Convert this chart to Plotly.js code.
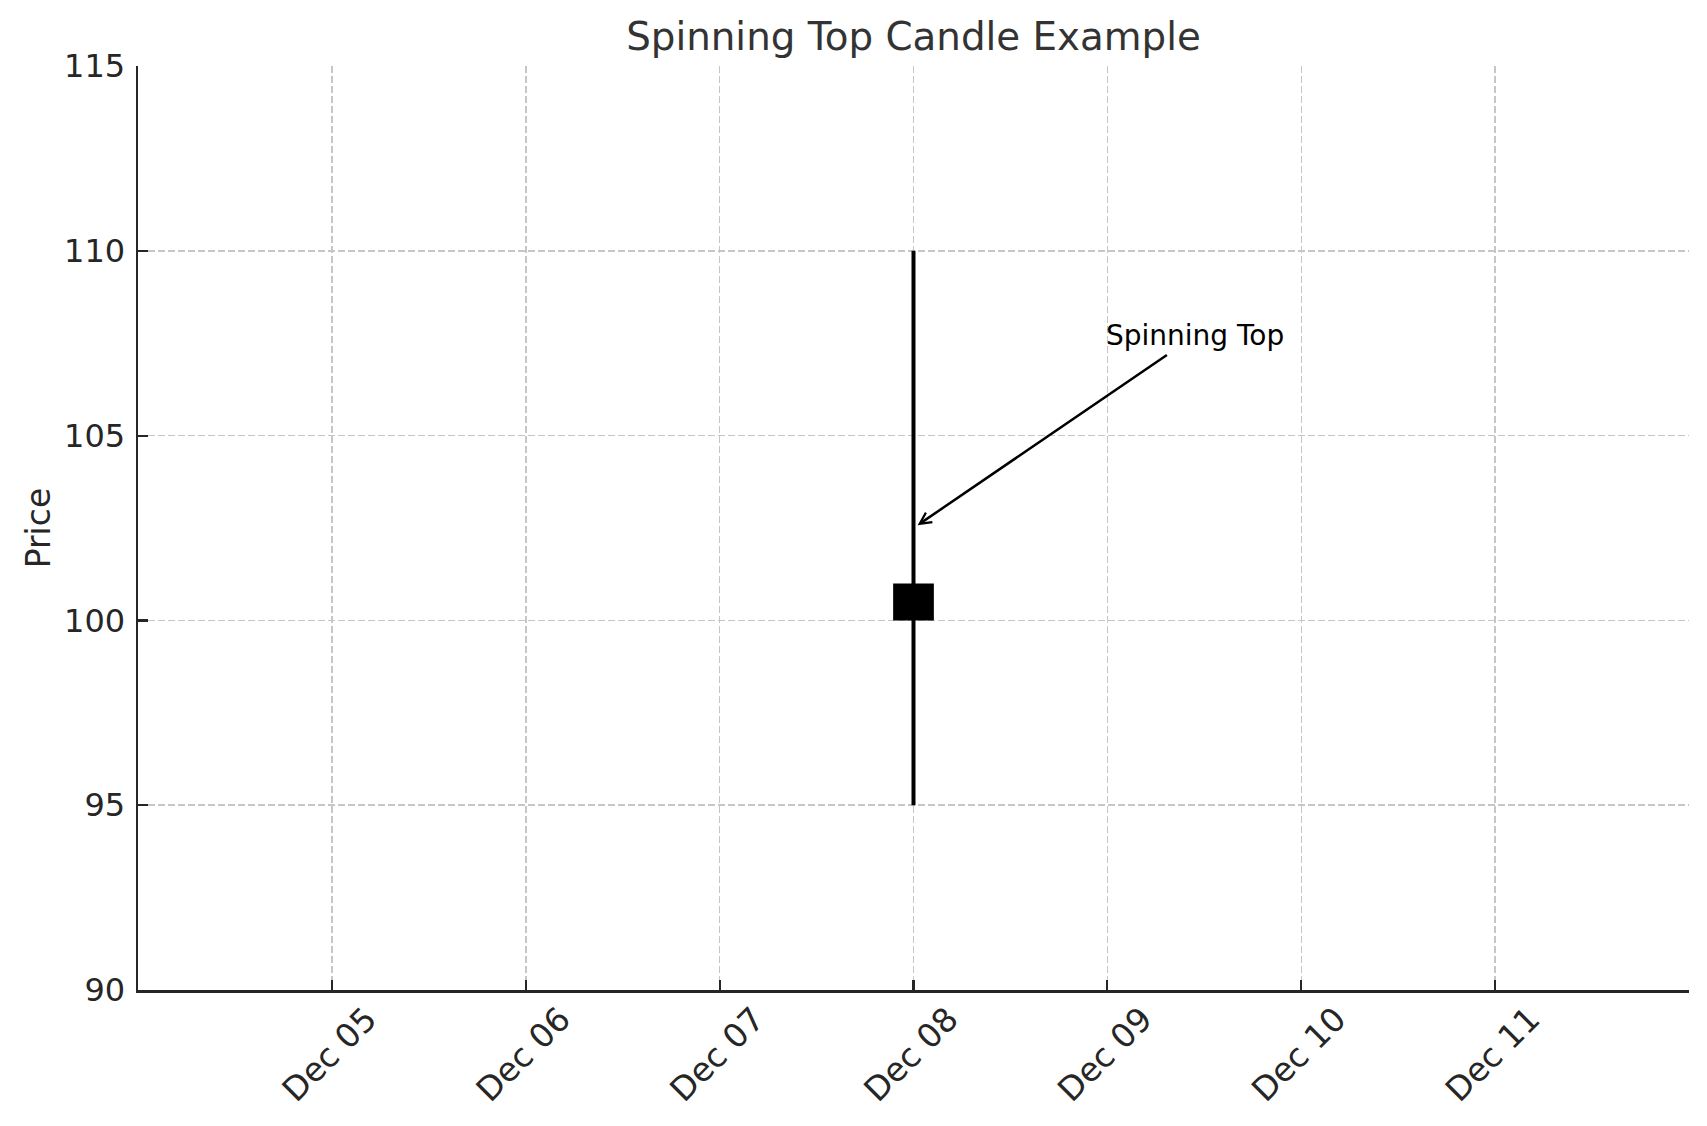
<!DOCTYPE html>
<html>
<head>
<meta charset="utf-8">
<script src="https://cdn.plot.ly/plotly-3.0.1.min.js"></script>
<style>html,body{margin:0;padding:0;background:#fff;}#chart{width:1707px;height:1126px;}</style>
</head>
<body>
<div id="chart"></div>
<script>
// ---- data ----
const dates = ['2023-12-08'];
const openPrices = [100];
const highPrices = [110];
const lowPrices = [95];
const closePrices = [101];
const xRange = ['2023-12-04', '2023-12-12'];
const xTickDates = ['2023-12-05', '2023-12-06', '2023-12-07', '2023-12-08', '2023-12-09', '2023-12-10', '2023-12-11'];
const xTickLabels = ['Dec 05', 'Dec 06', 'Dec 07', 'Dec 08', 'Dec 09', 'Dec 10', 'Dec 11'];
const yTicks = [90, 95, 100, 105, 110, 115];
const annotationText = 'Spinning Top';
const annotationPoint = ['2023-12-08', 102.5];
const annotationTextCenter = ['2023-12-09 10:50', 107.7];

const DAY = 86400000;
const font = 'DejaVu Sans, Verdana, sans-serif';

// body of the candle
const bodyTrace = {
  type: 'bar',
  x: dates,
  y: openPrices.map((o, i) => Math.abs(closePrices[i] - o)),
  base: openPrices.map((o, i) => Math.min(o, closePrices[i])),
  width: dates.map(() => 0.21 * DAY),
  marker: {color: '#000000', line: {width: 0}},
  hoverinfo: 'skip',
  showlegend: false
};

// wicks
const wickX = [], wickY = [];
dates.forEach((d, i) => { wickX.push(d, d, null); wickY.push(lowPrices[i], highPrices[i], null); });
const wickTrace = {
  type: 'scatter', mode: 'lines',
  x: wickX, y: wickY,
  line: {color: '#000000', width: 4},
  hoverinfo: 'skip', showlegend: false
};

const layout = {
  width: 1707, height: 1126,
  paper_bgcolor: '#ffffff', plot_bgcolor: '#ffffff',
  margin: {l: 138, r: 18, t: 66, b: 136},
  font: {family: font, color: '#262626'},
  showlegend: false,
  title: {
    text: 'Spinning Top Candle Example',
    font: {family: font, size: 38.8, color: '#333333'},
    x: 0.5, xref: 'paper', xanchor: 'center',
    y: 1 - 41/1126, yref: 'container', yanchor: 'bottom', pad: {b: -9}
  },
  xaxis: {
    type: 'date',
    range: xRange,
    tickvals: xTickDates,
    ticktext: xTickLabels,
    tickangle: -45,
    tickfont: {family: font, size: 33, color: '#262626'},
    ticks: 'inside', ticklen: 10, tickwidth: 2.2, tickcolor: '#262626',
    showline: true, linecolor: '#262626', linewidth: 2.5,
    showgrid: true, gridcolor: '#c6c6c6', gridwidth: 1.5, griddash: '7px,3px',
    zeroline: false, mirror: false,
    ticklabelshift: 35, ticklabelstandoff: -6,
    fixedrange: true
  },
  yaxis: {
    range: [90, 115],
    tickvals: yTicks,
    ticktext: yTicks.map(String),
    tickfont: {family: font, size: 32, color: '#262626'},
    ticks: 'inside', ticklen: 10, tickwidth: 2.2, tickcolor: '#262626',
    showline: true, linecolor: '#262626', linewidth: 2.5,
    showgrid: true, gridcolor: '#c6c6c6', gridwidth: 1.5, griddash: '7px,3px',
    zeroline: false, mirror: false,
    title: {text: 'Price', font: {family: font, size: 33, color: '#262626'}, standoff: 4},
    ticklabelstandoff: 4,
    fixedrange: true
  },
  annotations: [{
    x: annotationPoint[0], y: annotationPoint[1], xref: 'x', yref: 'y',
    ax: annotationTextCenter[0], ay: annotationTextCenter[1], axref: 'x', ayref: 'y',
    text: annotationText,
    font: {family: font, size: 28, color: '#000000'},
    showarrow: true, arrowhead: 5, arrowsize: 0.9, arrowwidth: 2.5, arrowcolor: '#000000',
    standoff: 5, startstandoff: 2
  }]
};

Plotly.newPlot('chart', [bodyTrace, wickTrace], layout, {displayModeBar: false, staticPlot: true});
</script>
</body>
</html>
